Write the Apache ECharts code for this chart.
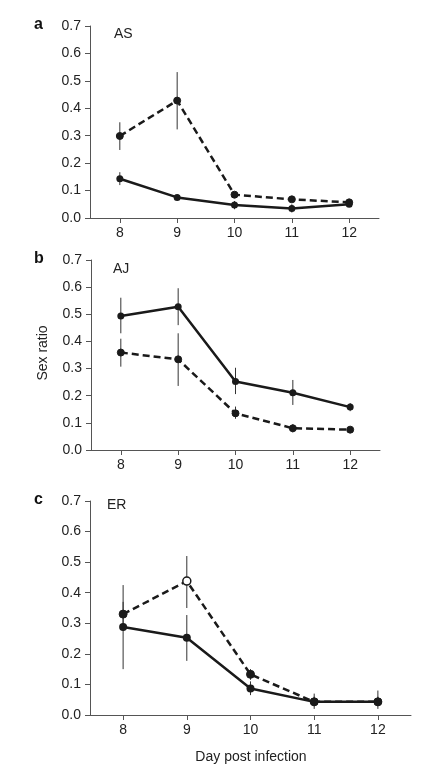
<!DOCTYPE html>
<html>
<head>
<meta charset="utf-8">
<script src="https://cdn.jsdelivr.net/npm/echarts@6/dist/echarts.min.js"></script>
<style>
html,body{margin:0;padding:0;background:#fff;}
#chart{width:435px;height:774px;}
</style>
</head>
<body>
<div id="chart"></div>
<script>
// ---- Data ----
const days = [8, 9, 10, 11, 12];
const yTicks = [0, 0.1, 0.2, 0.3, 0.4, 0.5, 0.6, 0.7];
const panelLetters = ['a', 'b', 'c'];
const panelNames = ['AS', 'AJ', 'ER'];

const asSolid   = [0.143, 0.075, 0.047, 0.035, 0.050];
const asSolidLo = [0.120, 0.068, 0.032, 0.020, 0.040];
const asSolidHi = [0.167, 0.082, 0.062, 0.050, 0.060];
const asDashed   = [0.299, 0.428, 0.085, 0.068, 0.057];
const asDashedLo = [0.248, 0.323, 0.078, 0.062, 0.051];
const asDashedHi = [0.349, 0.532, 0.092, 0.074, 0.063];

const ajSolid   = [0.494, 0.528, 0.252, 0.211, 0.158];
const ajSolidLo = [0.430, 0.460, 0.206, 0.166, 0.143];
const ajSolidHi = [0.561, 0.596, 0.303, 0.258, 0.173];
const ajDashed   = [0.359, 0.334, 0.135, 0.080, 0.075];
const ajDashedLo = [0.307, 0.236, 0.115, 0.065, 0.070];
const ajDashedHi = [0.410, 0.430, 0.160, 0.095, 0.080];

const erSolid   = [0.288, 0.253, 0.087, 0.043, 0.043];
const erSolidLo = [0.150, 0.177, 0.065, 0.020, 0.020];
const erSolidHi = [0.425, 0.327, 0.110, 0.070, 0.080];
const erDashed   = [0.330, 0.438, 0.133, 0.043, 0.043];
const erDashedLo = [0.290, 0.350, 0.115, 0.030, 0.030];
const erDashedHi = [0.370, 0.520, 0.150, 0.060, 0.060];
const erDashedOpen = [false, true, false, false, false];

const panels = [
  {solid: asSolid, solidLo: asSolidLo, solidHi: asSolidHi, dashed: asDashed, dashedLo: asDashedLo, dashedHi: asDashedHi, open: null},
  {solid: ajSolid, solidLo: ajSolidLo, solidHi: ajSolidHi, dashed: ajDashed, dashedLo: ajDashedLo, dashedHi: ajDashedHi, open: null},
  {solid: erSolid, solidLo: erSolidLo, solidHi: erSolidHi, dashed: erDashed, dashedLo: erDashedLo, dashedHi: erDashedHi, open: erDashedOpen}
];

// ---- Layout ----
const FONT = '"Liberation Sans", Arial, Helvetica, sans-serif';
const grids = [
  {left: 90, top: 26, width: 289, height: 192},
  {left: 91, top: 260, width: 289, height: 190},
  {left: 90, top: 501, width: 321, height: 214}
];
const symSizes = [7, 7, 8];
const ink = '#1a1a1a';
const axisColor = '#555';

const option = {
  animation: false,
  backgroundColor: '#fff',
  grid: grids.map(g => Object.assign({containLabel: false}, g)),
  xAxis: grids.map((g, i) => ({
    type: 'value', gridIndex: i, min: 7.48, max: 12.52,
    splitLine: {show: false},
    axisLine: {show: true, onZero: false, lineStyle: {color: axisColor, width: 1}},
    axisTick: {show: true, length: 5, customValues: days, lineStyle: {color: axisColor}},
    axisLabel: {customValues: days, margin: 8, color: '#222', fontFamily: FONT, fontSize: 14}
  })),
  yAxis: grids.map((g, i) => ({
    type: 'value', gridIndex: i, min: 0, max: 0.7, interval: 0.1,
    splitLine: {show: false},
    axisLine: {show: true, lineStyle: {color: axisColor, width: 1}},
    axisTick: {show: true, length: 5, lineStyle: {color: axisColor}},
    axisLabel: {margin: 9, color: '#222', fontFamily: FONT, fontSize: 14,
      formatter: v => v.toFixed(1)}
  })),
  graphic: [],
  series: []
};

panels.forEach((p, i) => {
  const g = grids[i];
  const errRender = function (params, api) {
    const x = api.value(0);
    const a = api.coord([x, api.value(1)]);
    const b = api.coord([x, api.value(2)]);
    return {type: 'line', shape: {x1: a[0], y1: a[1], x2: b[0], y2: b[1]},
      style: {stroke: '#333', lineWidth: 1}};
  };
  option.series.push({
    type: 'custom', xAxisIndex: i, yAxisIndex: i, z: 1,
    renderItem: errRender, encode: {x: 0, y: [1, 2]},
    data: days.map((d, k) => [d, p.solidLo[k], p.solidHi[k]])
  });
  option.series.push({
    type: 'custom', xAxisIndex: i, yAxisIndex: i, z: 1,
    renderItem: errRender, encode: {x: 0, y: [1, 2]},
    data: days.map((d, k) => [d, p.dashedLo[k], p.dashedHi[k]])
  });
  option.series.push({
    type: 'line', xAxisIndex: i, yAxisIndex: i, z: 3,
    symbol: 'circle', symbolSize: symSizes[i],
    lineStyle: {color: ink, width: 2.5, type: [7, 4]},
    itemStyle: {color: ink, borderColor: ink, borderWidth: 1},
    data: days.map((d, k) => {
      const item = {value: [d, p.dashed[k]]};
      if (p.open && p.open[k]) item.itemStyle = {color: '#fff', borderColor: ink, borderWidth: 1.5};
      return item;
    })
  });
  option.series.push({
    type: 'line', xAxisIndex: i, yAxisIndex: i, z: 4,
    symbol: 'circle', symbolSize: symSizes[i],
    lineStyle: {color: ink, width: 2.5},
    itemStyle: {color: ink},
    data: days.map((d, k) => [d, p.solid[k]])
  });
  option.graphic.push({
    type: 'text', left: 34, top: g.top - 9,
    style: {text: panelLetters[i], font: 'bold 16px ' + FONT, fill: '#111'}
  });
  option.graphic.push({
    type: 'text', left: [114, 113, 107][i], top: g.top + [1, 2, -3][i],
    style: {text: panelNames[i], font: '14px ' + FONT, fill: '#222'}
  });
});

option.graphic.push({
  type: 'text', x: 43, y: 353, rotation: Math.PI / 2,
  style: {text: 'Sex ratio', font: '14px ' + FONT, fill: '#222', align: 'center', verticalAlign: 'middle'}
});
option.graphic.push({
  type: 'text', x: 251, y: 757,
  style: {text: 'Day post infection', font: '14px ' + FONT, fill: '#222', align: 'center', verticalAlign: 'middle'}
});

const chart = echarts.init(document.getElementById('chart'), null, {renderer: 'canvas'});
chart.setOption(option);
</script>
</body>
</html>
